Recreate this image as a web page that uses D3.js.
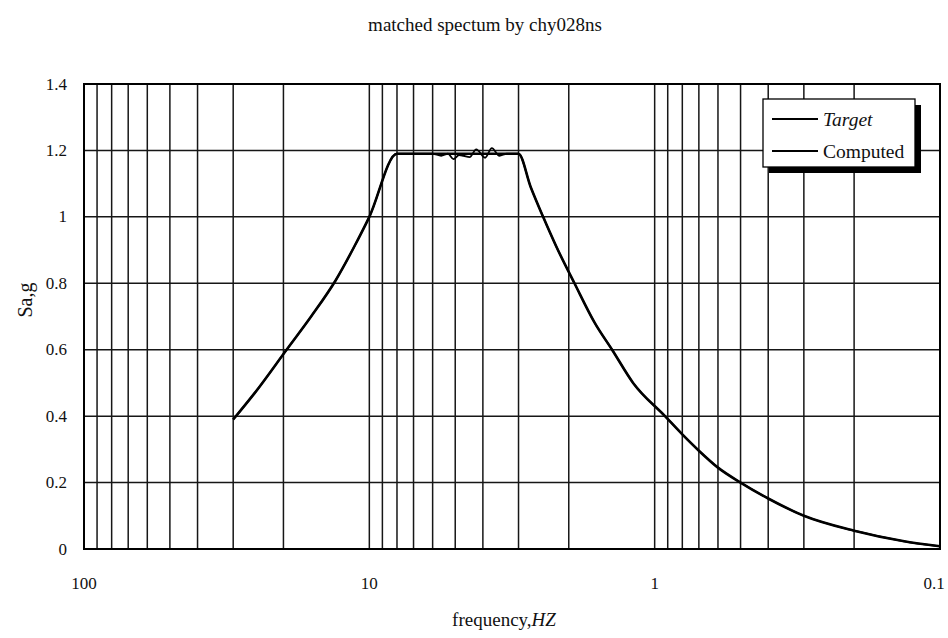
<!DOCTYPE html>
<html>
<head>
<meta charset="utf-8">
<script src="https://cdn.jsdelivr.net/npm/d3@7"></script>
<style>
  html, body { margin: 0; padding: 0; background: #ffffff; }
  svg { display: block; }
  text { font-family: "Liberation Serif", "DejaVu Serif", serif; fill: #111; }
</style>
</head>
<body>
<svg id="chart" width="948" height="638"></svg>
<script>
// ---- data ----
const chartTitle = "matched spectum by chy028ns";
const xTitle = "frequency,";
const xTitleItalic = "HZ";
const yTitle = "Sa,g";
const seriesNames = ["Target", "Computed"];

const xTickValues = [100, 10, 1, 0.1];
const xTickLabels = ["100", "10", "1", "0.1"];
const yTickValues = [0, 0.2, 0.4, 0.6, 0.8, 1, 1.2, 1.4];
const yTickLabels = ["0", "0.2", "0.4", "0.6", "0.8", "1", "1.2", "1.4"];

const targetFreq = [30, 25.2, 19.5, 16, 13.1, 11.3, 10, 8, 3, 2.72, 2.46, 2.21, 1.91, 1.62, 1.41, 1.19, 0.92, 0.8, 0.7, 0.6, 0.5, 0.4, 0.3, 0.2, 0.135, 0.1];
const targetSa   = [0.39, 0.47, 0.6, 0.7, 0.81, 0.91, 1.0, 1.19, 1.19, 1.09, 1.0, 0.91, 0.8, 0.68, 0.6, 0.5, 0.4, 0.345, 0.296, 0.245, 0.2, 0.152, 0.10, 0.055, 0.024, 0.008];

const computedFreq = [30, 25.2, 19.5, 16, 13.1, 11.3, 10, 8, 6, 5.6, 5.3, 5.07, 4.85, 4.68, 4.45, 4.22, 3.93, 3.72, 3.5, 3.3, 3, 2.72, 2.46, 2.21, 1.91, 1.62, 1.41, 1.19, 0.92, 0.8, 0.7, 0.6, 0.5, 0.4, 0.3, 0.2, 0.135, 0.1];
const computedSa   = [0.39, 0.47, 0.6, 0.7, 0.81, 0.91, 1.0, 1.19, 1.19, 1.184, 1.19, 1.174, 1.186, 1.184, 1.18, 1.203, 1.178, 1.207, 1.184, 1.19, 1.19, 1.09, 1.0, 0.91, 0.8, 0.68, 0.6, 0.5, 0.4, 0.345, 0.296, 0.245, 0.2, 0.152, 0.10, 0.055, 0.024, 0.008];

// ---- layout ----
const svg = d3.select("#chart");
const plotLeft = 84, plotRight = 940, plotTop = 84, plotBottom = 549;

const x = d3.scaleLog().domain([100, 0.1]).range([plotLeft, plotRight]);
const y = d3.scaleLinear().domain([0, 1.4]).range([plotBottom, plotTop]);

// minor log grid values (every 1..9 in each decade)
const gridX = [];
[10, 1, 0.1].forEach(d => { for (let k = 1; k <= 9; k++) gridX.push(d * k); });
gridX.push(100);

const g = svg.append("g");

// vertical grid
g.append("g").selectAll("line").data(gridX).join("line")
  .attr("x1", d => x(d)).attr("x2", d => x(d))
  .attr("y1", plotTop).attr("y2", plotBottom)
  .attr("stroke", "#161616").attr("stroke-width", 1.5);

// horizontal grid
g.append("g").selectAll("line").data(yTickValues).join("line")
  .attr("x1", plotLeft).attr("x2", plotRight)
  .attr("y1", d => y(d)).attr("y2", d => y(d))
  .attr("stroke", "#161616").attr("stroke-width", 1.5);

// border
g.append("rect").attr("x", plotLeft).attr("y", plotTop)
  .attr("width", plotRight - plotLeft).attr("height", plotBottom - plotTop)
  .attr("fill", "none").attr("stroke", "#000").attr("stroke-width", 2);

// y tick labels
g.append("g").selectAll("text").data(yTickValues).join("text")
  .attr("x", plotLeft - 17).attr("y", d => y(d))
  .attr("text-anchor", "end").attr("dominant-baseline", "central")
  .style("font-size", "17px")
  .text((d, i) => yTickLabels[i]);

// x tick labels
g.append("g").selectAll("text").data(xTickValues).join("text")
  .attr("x", d => d === 0.1 ? x(d) - 6 : x(d)).attr("y", plotBottom + 40)
  .attr("text-anchor", "middle")
  .style("font-size", "17px")
  .text((d, i) => xTickLabels[i]);

// lines
const line = d3.line().x(d => x(d[0])).y(d => y(d[1])).curve(d3.curveMonotoneX);
const targetData = targetFreq.map((f, i) => [f, targetSa[i]]);
const computedData = computedFreq.map((f, i) => [f, computedSa[i]]);

g.append("path").datum(targetData).attr("d", line)
  .attr("fill", "none").attr("stroke", "#000").attr("stroke-width", 2.6)
  .attr("stroke-linejoin", "round");
g.append("path").datum(computedData).attr("d", line)
  .attr("fill", "none").attr("stroke", "#000").attr("stroke-width", 1.8)
  .attr("stroke-linejoin", "round");

// title
svg.append("text").attr("x", 485).attr("y", 31)
  .attr("text-anchor", "middle").style("font-size", "19px")
  .text(chartTitle);

// axis titles
const xt = svg.append("text").attr("x", 504).attr("y", 626)
  .attr("text-anchor", "middle").style("font-size", "19px");
xt.append("tspan").text(xTitle);
xt.append("tspan").style("font-style", "italic").text(xTitleItalic);

svg.append("text")
  .attr("transform", "translate(32,300) rotate(-90)")
  .attr("text-anchor", "middle").style("font-size", "20px")
  .text(yTitle);

// legend
const lg = svg.append("g").attr("transform", "translate(763,99)");
lg.append("rect").attr("x", 6).attr("y", 6).attr("width", 152).attr("height", 68).attr("fill", "#000");
lg.append("rect").attr("x", 0).attr("y", 0).attr("width", 152).attr("height", 68)
  .attr("fill", "#fff").attr("stroke", "#000").attr("stroke-width", 1.3);
seriesNames.forEach((name, i) => {
  const yy = 20 + i * 32;
  lg.append("line").attr("x1", 9).attr("x2", 55).attr("y1", yy).attr("y2", yy)
    .attr("stroke", "#000").attr("stroke-width", 2);
  lg.append("text").attr("x", 60).attr("y", yy).attr("dominant-baseline", "central")
    .style("font-size", "19.5px")
    .style("font-style", i === 0 ? "italic" : "normal")
    .text(name);
});
</script>
</body>
</html>
